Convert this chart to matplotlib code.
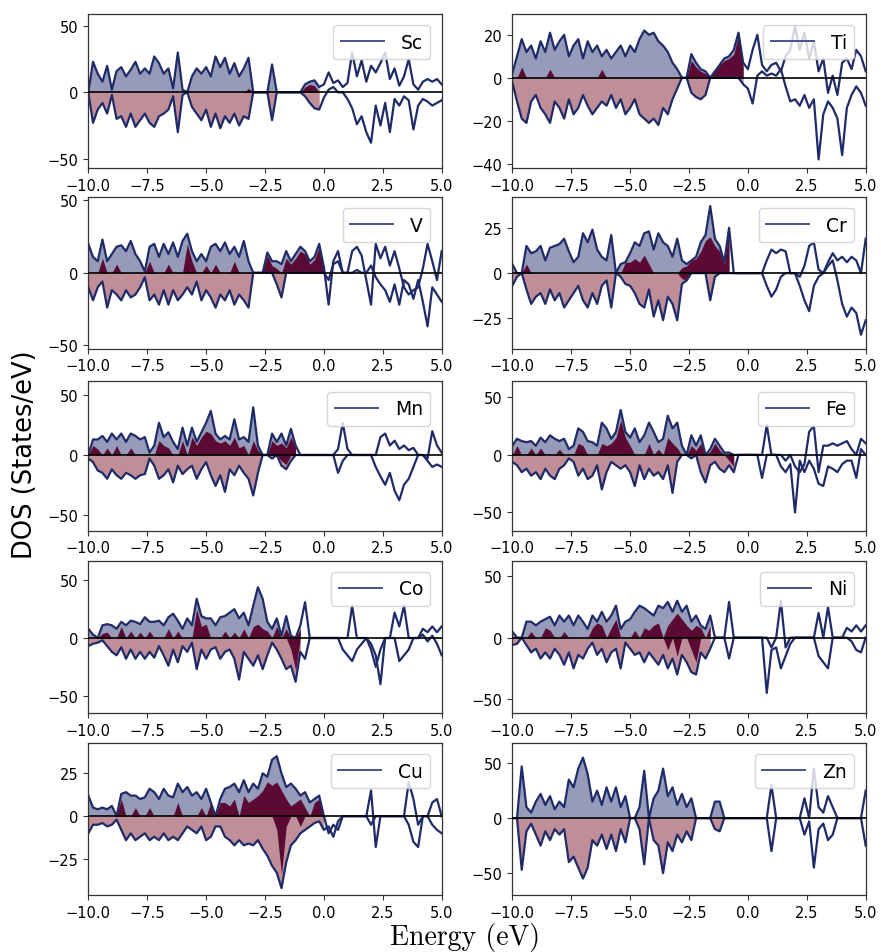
import numpy as np
import matplotlib
matplotlib.use("Agg")
import matplotlib.pyplot as plt
from matplotlib.lines import Line2D

# Energy grid (eV), 0.2 eV spacing
ENERGY = np.round(np.arange(-10.0, 5.0001, 0.2), 1)

ELEMENTS = ["Sc", "Ti", "V", "Cr", "Mn", "Fe", "Co", "Ni", "Cu", "Zn"]

SC_UP = [0, 23, 14, 8, 20, 2, 16, 19, 12, 17,
         23, 14, 18, 14, 27, 22, 14, 18, 3, 30,
         2, 0, 12, 18, 14, 19, 12, 27, 19, 26,
         14, 22, 12, 18, 26, 0, 0, 0, 0, 21,
         0, 0, 0, 0, 0, 0, 6, 8, 9, 4,
         6, 15, 7, 9, 4, 7, 30, 12, 24, 8,
         20, 15, 22, 30, 10, 18, 5, 12, 25, 6,
         2, 8, 10, 8, 10, 6]
SC_DN = [0, -23, -13, -8, -16, -2, -20, -18, -26, -16,
         -26, -21, -16, -23, -26, -18, -16, -13, -3, -30,
         -2, 0, -11, -16, -21, -13, -26, -16, -27, -18,
         -23, -16, -25, -18, -20, 0, 0, 0, 0, -21,
         0, 0, 0, 0, 0, 0, -3, -8, -12, -13,
         -4, 2, 4, 0, 0, -5, -12, -24, -18, -30,
         -38, -10, -25, -8, -30, -5, -10, -3, -6, -28,
         -10, -5, -7, -10, -8, -6]
SC_DU = [0, 0, 0, 0, 0, 0, 0, 0, 0, 0,
         0, 0, 0, 0, 0, 0, 0, 0, 0, 0,
         0, 0, 0, 0, 0, 0, 0, 0, 0, 0,
         0, 0, 0, 0, 3, 0, 0, 0, 0, 0,
         0, 0, 0, 0, 0, 0, 4, 6, 5, 0,
         0, 0, 0, 0, 0, 0, 0, 0, 0, 0,
         0, 0, 0, 0, 0, 0, 0, 0, 0, 0,
         0, 0, 0, 0, 0, 0]

TI_UP = [2, 10, 18, 12, 15, 9, 17, 12, 21, 13,
         17, 20, 10, 15, 18, 9, 17, 12, 15, 10,
         13, 9, 12, 15, 10, 15, 12, 18, 22, 20,
         21, 17, 15, 12, 7, 4, 0, 0, 11, 7,
         4, 3, 0, 3, 6, 9, 10, 13, 21, 7,
         4, 13, 20, 6, 3, 6, 7, 3, 10, 13,
         24, 13, 21, 9, 17, 3, 9, -7, 1, -8,
         7, 9, 4, 13, 10, 3]
TI_DN = [-2, -11, -19, -21, -11, -8, -14, -17, -21, -11,
         -14, -19, -10, -17, -14, -8, -13, -17, -14, -11,
         -13, -8, -14, -10, -17, -14, -10, -17, -19, -21,
         -19, -22, -14, -17, -10, -5, 0, 0, -7, -9,
         -10, -8, 0, 0, 0, 0, 0, 0, 0, -3,
         -5, -12, 1, 3, 1, 2, 1, 4, -4, -11,
         -10, -13, -8, -14, -10, -38, -17, -11, -14, -19,
         -36, -14, -8, -4, -7, -13]
TI_DU = [0, 0, 5, 0, 0, 0, 0, 0, 4, 0,
         0, 0, 0, 0, 0, 0, 0, 0, 0, 4,
         0, 0, 0, 0, 0, 0, 0, 0, 0, 0,
         0, 0, 0, 0, 0, 0, 0, 0, 8, 5,
         3, 2, 0, 3, 6, 8, 9, 11, 20, 5,
         0, 0, 0, 0, 0, 0, 0, 0, 0, 0,
         0, 0, 0, 0, 0, 0, 0, 0, 0, 0,
         0, 0, 0, 0, 0, 0]

V_UP = [20, 11, 8, 23, 8, 13, 18, 19, 15, 22,
        13, 8, 1, 18, 20, 11, 20, 13, 21, 11,
        22, 27, 15, 8, 13, 8, 18, 20, 15, 21,
        13, 18, 11, 22, 8, 0, 0, 0, 14, 8,
        8, 6, 15, 8, 13, 18, 15, 8, 11, 20,
        4, -22, 8, 15, 0, 0, 15, 18, 12, -5,
        -22, 20, 10, 18, 5, 15, 3, -10, -15, -12,
        -10, 3, 20, 8, -5, 15]
V_DN = [-10, -19, -10, -6, -24, -12, -15, -19, -12, -17,
        -15, -10, -3, -19, -15, -22, -12, -22, -12, -19,
        -15, -10, -15, -6, -19, -12, -17, -24, -15, -19,
        -12, -22, -15, -19, -24, 0, 0, 0, 0, 0,
        -8, -17, 0, 0, 0, 0, 0, 0, 0, 0,
        0, -5, 6, 8, 0, 0, 0, 2, 0, 0,
        5, -3, -8, -12, -20, -8, -22, -5, -8, -18,
        -5, -20, -37, -10, -15, -20]
V_DU = [0, 0, 0, 10, 0, 0, 6, 0, 0, 0,
        0, 0, 0, 8, 0, 0, 0, 6, 0, 0,
        0, 20, 8, 0, 0, 5, 0, 6, 0, 0,
        0, 8, 0, 0, 0, 0, 0, 0, 12, 5,
        3, 0, 10, 6, 10, 15, 13, 6, 9, 18,
        2, 0, 0, 0, 0, 0, 0, 0, 0, 0,
        0, 0, 0, 0, 0, 0, 0, 0, 0, 0,
        0, 0, 0, 0, 0, 0]

CR_UP = [5, 0, 0, 15, 11, 12, 15, 7, 14, 15,
         16, 19, 12, 6, 9, 22, 17, 24, 13, 9,
         7, 21, 0, 5, 6, 11, 17, 15, 22, 23,
         13, 22, 17, 15, 9, 19, 7, 5, 7, 9,
         17, 21, 37, 19, 15, 6, 25, 0, 0, 0,
         0, 0, 0, 0, 7, 13, 11, 13, 12, 0,
         0, -2, 4, 15, 17, 2, 0, 6, 11, 7,
         9, 6, 9, 7, 0, 19]
CR_DN = [-7, -2, 0, -9, -17, -13, -11, -17, -9, -15,
         -11, -19, -15, -11, -7, -15, -19, -11, -17, -7,
         -4, -19, 0, -2, -6, -7, -11, -17, -19, -9,
         -24, -15, -26, -13, -17, -26, -6, -4, 0, 0,
         0, 0, -15, -2, 0, 0, 0, 0, 0, 0,
         0, 0, 0, 0, -7, -13, -9, -2, 0, 0,
         0, -7, -15, -21, -7, -2, 0, 4, 7, -4,
         -17, -24, -19, -22, -34, -26]
CR_DU = [0, 0, 0, 5, 0, 0, 0, 0, 0, 0,
         0, 0, 0, 0, 0, 0, 0, 0, 0, 0,
         0, 0, 0, 0, 6, 6, 8, 6, 10, 5,
         0, 0, 0, 0, 0, 0, 3, 4, 7, 8,
         12, 18, 20, 15, 12, 5, 25, 0, 0, 0,
         0, 0, 0, 0, 0, 0, 0, 0, 0, 0,
         0, 0, 0, 0, 0, 0, 0, 0, 0, 0,
         0, 0, 0, 0, 0, 0]
CR_DD = [0, 0, 0, 0, 0, 0, 0, 0, 0, 0,
         0, 0, 0, 0, 0, 0, 0, 0, 0, 0,
         0, 0, 0, 0, 0, 0, 0, 0, 0, 0,
         0, 0, 0, 0, 0, 0, -3, -4, 0, 0,
         0, 0, 0, 0, 0, 0, 0, 0, 0, 0,
         0, 0, 0, 0, 0, 0, 0, 0, 0, 0,
         0, 0, 0, 0, 0, 0, 0, 0, 0, 0,
         0, 0, 0, 0, 0, 0]

MN_UP = [0, 13, 13, 16, 11, 18, 13, 18, 11, 18,
         16, 13, 15, 2, 8, 27, 15, 19, 11, 5,
         23, 8, 23, 11, 19, 27, 37, 18, 13, 16,
         13, 30, 13, 15, 11, 40, 8, 0, 0, 18,
         11, 18, 8, 22, 8, 0, 0, 0, 0, 0,
         0, 0, 0, 5, 27, 5, 0, 0, 0, 0,
         0, 0, 15, 18, 8, 12, 5, 8, 4, 6,
         0, 0, -3, 20, 8, 2]
MN_DN = [-3, -6, -13, -15, -20, -12, -17, -20, -15, -17,
         -20, -17, -16, -3, -9, -20, -17, -12, -23, -9,
         -16, -12, -9, -20, -12, -6, -17, -26, -17, -31,
         -12, -17, -9, -15, -20, -34, -15, 0, 0, -3,
         0, -9, -12, -5, 0, 0, 0, 0, 0, 0,
         0, 0, 0, -15, -5, 0, 0, 0, 0, 0,
         0, -10, -18, -25, -15, -30, -38, -25, -20, -10,
         0, 0, -5, -10, -8, -10]
MN_DU = [0, 8, 5, 0, 6, 0, 8, 0, 0, 6,
         0, 0, 0, 0, 0, 12, 8, 6, 0, 0,
         12, 0, 15, 8, 15, 20, 18, 12, 10, 12,
         8, 15, 6, 8, 0, 12, 4, 0, 0, 12,
         8, 10, 6, 15, 6, 0, 0, 0, 0, 0,
         0, 0, 0, 0, 0, 0, 0, 0, 0, 0,
         0, 0, 0, 0, 0, 0, 0, 0, 0, 0,
         0, 0, 0, 0, 0, 0]
MN_DD = [0, 0, 0, 0, 0, 0, 0, 0, 0, 0,
         0, 0, 0, 0, 0, 0, 0, 0, 0, 0,
         0, 0, 0, 0, 0, 0, 0, 0, 0, 0,
         0, 0, 0, 0, 0, 0, 0, 0, 0, 0,
         0, -5, -8, 0, 0, 0, 0, 0, 0, 0,
         0, 0, 0, 0, 0, 0, 0, 0, 0, 0,
         0, 0, 0, 0, 0, 0, 0, 0, 0, 0,
         0, 0, 0, 0, 0, 0]

FE_UP = [8, 14, 12, 11, 12, 8, 15, 11, 17, 14,
         12, 14, 5, 8, 23, 20, 12, 11, 8, 28,
         23, 14, 20, 39, 20, 15, 23, 11, 17, 28,
         20, 11, 14, 34, 23, 28, 8, 0, 17, 8,
         17, 0, 5, 14, 8, 2, 2, 0, 0, 0,
         0, 0, 0, 0, 26, 0, 0, 0, -5, 0,
         -10, -15, -8, 20, 25, -15, 8, 8, 10, 8,
         10, 12, 5, 0, 14, 10]
FE_DN = [-6, -9, -15, -12, -18, -15, -21, -12, -18, -21,
         -12, -9, -3, -6, -18, -12, -21, -18, -9, -30,
         -15, -6, -9, -12, -9, -15, -27, -9, -21, -12,
         -18, -15, -21, -9, -33, -6, 0, 0, -3, 0,
         -15, -24, -9, -6, -12, -15, -9, -15, 0, 0,
         0, 0, 0, -20, 0, 0, 0, -10, -15, -8,
         -50, -5, -15, -5, -12, -25, -27, -10, -12, -15,
         -8, -5, -5, -20, 5, 0]
FE_DU = [0, 8, 0, 0, 6, 0, 6, 0, 0, 0,
         5, 0, 0, 0, 10, 8, 0, 0, 0, 10,
         8, 10, 15, 30, 15, 8, 0, 0, 0, 10,
         0, 5, 0, 15, 10, 6, 0, 0, 8, 4,
         10, 0, 3, 10, 4, 0, 0, 0, 0, 0,
         0, 0, 0, 0, 0, 0, 0, 0, 0, 0,
         0, 0, 0, 0, 0, 0, 0, 0, 0, 0,
         0, 0, 0, 0, 0, 0]
FE_DD = [0, 0, 0, 0, 0, 0, 0, 0, 0, 0,
         0, 0, 0, 0, 0, 0, 0, 0, 0, 0,
         0, 0, 0, 0, 0, 0, 0, 0, 0, 0,
         0, 0, 0, 0, 0, 0, 0, 0, 0, 0,
         0, 0, 0, 0, 0, 0, -5, -10, 0, 0,
         0, 0, 0, 0, 0, 0, 0, 0, 0, 0,
         0, 0, 0, 0, 0, 0, 0, 0, 0, 0,
         0, 0, 0, 0, 0, 0]

CO_UP = [8, 3, 0, 11, 12, 11, 8, 14, 11, 15,
         14, 12, 18, 14, 14, 15, 11, 18, 21, 15,
         8, 17, 11, 34, 19, 17, 17, 11, 18, 19,
         22, 25, 17, 22, 11, 28, 44, 34, 14, 8,
         17, 2, 19, 2, 0, 11, 31, 0, 0, 0,
         0, 0, 0, 0, 0, 0, 28, 0, 0, 0,
         -5, -15, -40, 0, 0, 22, 10, 28, 0, 0,
         0, 8, 5, 10, 5, 10]
CO_DN = [-7, -5, -4, -2, -7, -12, -15, -8, -18, -10,
         -18, -12, -18, -12, -17, -7, -15, -24, -10, -21,
         -7, -12, -4, -27, -10, -18, -10, -8, -18, -12,
         -10, -18, -36, -12, -18, -24, -15, -27, -15, -4,
         -10, -18, -27, -24, -38, -12, -18, 0, 0, 0,
         0, 0, 0, 0, -10, -15, -20, -10, -5, 0,
         -10, -25, -10, 0, 0, 0, -20, -15, -10, 0,
         0, 3, -3, 2, -5, -15]
CO_DU = [0, 0, 0, 4, 5, 0, 0, 10, 0, 6,
         0, 5, 0, 6, 0, 0, 0, 8, 0, 6,
         0, 0, 0, 25, 10, 12, 0, 0, 0, 6,
         0, 5, 0, 8, 0, 10, 12, 8, 6, 0,
         10, 0, 8, 0, 0, 8, 20, 0, 0, 0,
         0, 0, 0, 0, 0, 0, 0, 0, 0, 0,
         0, 0, 0, 0, 0, 0, 0, 0, 0, 0,
         0, 0, 0, 0, 0, 0]
CO_DD = [0, 0, 0, 0, 0, 0, 0, 0, 0, 0,
         0, 0, 0, 0, 0, 0, 0, 0, 0, 0,
         0, 0, 0, 0, 0, 0, 0, 0, 0, 0,
         0, 0, 0, 0, 0, 0, 0, 0, 0, 0,
         0, 0, 0, -10, -28, 0, 0, 0, 0, 0,
         0, 0, 0, 0, 0, 0, 0, 0, 0, 0,
         0, 0, 0, 0, 0, 0, 0, 0, 0, 0,
         0, 0, 0, 0, 0, 0]

NI_UP = [5, 0, 0, 13, 13, 10, 13, 15, 17, 10,
         18, 13, 18, 10, 18, 13, 7, 18, 13, 21,
         13, 18, 26, 7, 13, 15, 21, 26, 24, 21,
         18, 26, 24, 29, 21, 30, 21, 26, 13, 18,
         10, 7, 18, 0, 0, 0, 29, 0, 0, 0,
         0, 0, 0, 0, 0, -8, 0, 30, -8, 0,
         0, 0, 0, 0, 0, 20, 0, 25, 0, 0,
         0, 8, 5, 10, 5, 10]
NI_DN = [-6, -5, 0, -6, -12, -9, -17, -12, -17, -9,
         -14, -22, -12, -25, -14, -17, -9, -4, -14, -9,
         -20, -12, -9, -25, -4, -9, -14, -12, -20, -12,
         -17, -22, -14, -25, -17, -30, -14, -20, -28, -30,
         -12, -17, -9, 0, 0, 0, -17, 0, 0, 0,
         0, 0, 0, 0, -45, -10, -8, -25, -15, -5,
         0, 0, 0, 0, 0, -15, -20, -25, 0, 0,
         0, 0, -3, -10, -12, 0]
NI_DU = [0, 0, 0, 0, 5, 0, 0, 8, 6, 0,
         0, 5, 0, 0, 0, 0, 0, 8, 12, 10,
         0, 8, 15, 0, 0, 0, 6, 0, 8, 6,
         10, 12, 0, 10, 15, 20, 15, 10, 6, 10,
         8, 0, 10, 0, 0, 0, 0, 0, 0, 0,
         0, 0, 0, 0, 0, 0, 0, 0, 0, 0,
         0, 0, 0, 0, 0, 0, 0, 0, 0, 0,
         0, 0, 0, 0, 0, 0]
NI_DD = [0, 0, 0, 0, 0, 0, 0, 0, 0, 0,
         0, 0, 0, 0, 0, 0, 0, 0, 0, 0,
         0, 0, 0, 0, 0, 0, 0, 0, 0, 0,
         0, 0, 0, -10, 0, -15, 0, 0, -10, -20,
         0, 0, 0, 0, 0, 0, 0, 0, 0, 0,
         0, 0, 0, 0, 0, 0, 0, 0, 0, 0,
         0, 0, 0, 0, 0, 0, 0, 0, 0, 0,
         0, 0, 0, 0, 0, 0]

CU_UP = [12, 5, 4, 5, 4, 6, 0, 13, 14, 12,
         12, 10, 11, 16, 14, 10, 16, 12, 11, 19,
         14, 17, 12, 14, 10, 16, 8, 0, 10, 16,
         17, 19, 14, 21, 14, 19, 16, 25, 23, 33,
         35, 25, 17, 19, 16, 12, 14, 8, 10, 12,
         0, -10, -5, -8, 0, 0, 0, 0, 0, 0,
         15, -18, 0, 0, 0, 0, 0, 0, 20, 10,
         -5, 0, 0, 8, 10, 0]
CU_DN = [-10, -5, -5, -4, -6, -5, -2, -8, -14, -10,
         -14, -12, -10, -14, -12, -14, -10, -14, -12, -14,
         -10, -6, -8, -10, -6, -14, -12, -6, -6, -12,
         -14, -17, -14, -17, -16, -17, -14, -19, -23, -29,
         -33, -42, -27, -17, -14, -10, -8, -6, -4, -3,
         -8, -6, -12, -3, 0, 0, 0, 0, 0, 0,
         -5, 0, 0, 0, 0, 0, 0, 0, -5, -15,
         -18, 0, 0, -5, -8, -10]
CU_DU = [0, 0, 0, 0, 0, 0, 0, 10, 0, 0,
         5, 0, 0, 5, 0, 0, 0, 0, 0, 8,
         0, 0, 0, 0, 5, 0, 8, 0, 8, 8,
         6, 10, 0, 12, 8, 10, 12, 15, 20, 18,
         20, 15, 10, 6, 8, 10, 5, 0, 8, 10,
         0, 0, 0, 0, 0, 0, 0, 0, 0, 0,
         0, 0, 0, 0, 0, 0, 0, 0, 0, 0,
         0, 0, 0, 0, 0, 0]
CU_DD = [0, 0, 0, 0, 0, 0, 0, 0, 0, 0,
         0, 0, 0, 0, 0, 0, 0, 0, 0, 0,
         0, 0, 0, 0, 0, 0, 0, 0, 0, 0,
         0, 0, 0, 0, 0, 0, 0, 0, 0, 0,
         -8, -34, -6, 0, 0, -6, 0, 0, 0, 0,
         0, 0, 0, 0, 0, 0, 0, 0, 0, 0,
         0, 0, 0, 0, 0, 0, 0, 0, 0, 0,
         0, 0, 0, 0, 0, 0]

ZN_UP = [0, 0, 47, 10, 5, 15, 22, 12, 20, 8,
         15, 10, 35, 28, 45, 55, 40, 15, 25, 12,
         28, 15, 28, 10, 20, 0, 0, 10, 43, 0,
         18, 25, 45, 20, 28, 12, 22, 10, 18, 0,
         0, 0, 0, 15, 15, 0, 0, 0, 0, 0,
         0, 0, 0, 0, 0, 30, 0, 0, 0, 0,
         0, 0, 18, 0, 45, 10, 5, 20, 10, 0,
         0, 0, 0, 0, 0, 25]
ZN_DN = [0, 0, -47, -12, -5, -15, -25, -12, -20, -10,
         -15, -10, -40, -35, -45, -55, -45, -20, -25, -15,
         -28, -15, -30, -10, -22, 0, 0, -10, -42, 0,
         -20, -25, -50, -22, -30, -15, -22, -12, -20, 0,
         0, 0, 0, -10, -12, 0, 0, 0, 0, 0,
         0, 0, 0, 0, 0, -30, 0, 0, 0, 0,
         0, 0, -15, -3, -45, -10, -5, -20, -15, 0,
         0, 0, 0, 0, 0, -25]

# occupied-state fill limit (eV) per element
FILL_LIMIT = [-0.1, -0.2, 0.0, -0.7, -1.1, -0.45, -0.85, -1.55, 0.0, -1.0]
Y_LIMITS = [(-57, 59), (-42, 29.7), (-52.3, 52.4), (-41.6, 42), (-63.6, 62.4),
            (-65.8, 64.4), (-65, 67), (-61.3, 62.6), (-46, 42.7), (-69.9, 68.3)]
Y_TICKS = [[-50, 0, 50], [-40, -20, 0, 20], [-50, 0, 50], [-25, 0, 25], [-50, 0, 50],
           [-50, 0, 50], [-50, 0, 50], [-50, 0, 50], [-25, 0, 25], [-50, 0, 50]]
X_TICKS = [-10.0, -7.5, -5.0, -2.5, 0.0, 2.5, 5.0]

SERIES = [
    (SC_UP, SC_DN, SC_DU, None),
    (TI_UP, TI_DN, TI_DU, None),
    (V_UP, V_DN, V_DU, None),
    (CR_UP, CR_DN, CR_DU, CR_DD),
    (MN_UP, MN_DN, MN_DU, MN_DD),
    (FE_UP, FE_DN, FE_DU, FE_DD),
    (CO_UP, CO_DN, CO_DU, CO_DD),
    (NI_UP, NI_DN, NI_DU, NI_DD),
    (CU_UP, CU_DN, CU_DU, CU_DD),
    (ZN_UP, ZN_DN, None, None),
]

NAVY = "#1f2b68"
SLATE = "#959bb9"
PINK = "#bf8e99"
MAROON = "#5b0b33"
LEG_LINE = "#46528a"
SPINE = "#333333"

W, H = 881, 953
fig = plt.figure(figsize=(W / 100, H / 100), dpi=100)

col_left = [88.3, 512.3]
col_width = 353.4
rows = [(15, 169), (198, 349.5), (381.7, 531.7), (561.7, 714), (744, 896)]

for k, name in enumerate(ELEMENTS):
    r, c = divmod(k, 2)
    top, bot = rows[r]
    ax = fig.add_axes([col_left[c] / W, 1 - bot / H, col_width / W, (bot - top) / H])
    up, dn, du, dd = [None if s is None else np.asarray(s, float) for s in SERIES[k]]
    for s in (up, dn, du, dd):
        if s is not None and len(s) != len(ENERGY):
            raise ValueError(f"{name}: length {len(s)}")
    mask = ENERGY <= FILL_LIMIT[k] + 1e-9
    ax.fill_between(ENERGY, 0, up, where=mask, color=SLATE, lw=0, zorder=1)
    ax.fill_between(ENERGY, 0, dn, where=mask, color=PINK, lw=0, zorder=1)
    if du is not None:
        ax.fill_between(ENERGY, 0, du, where=mask, color=MAROON, lw=0, zorder=1.5)
    if dd is not None:
        ax.fill_between(ENERGY, 0, dd, where=mask, color=MAROON, lw=0, zorder=1.5)
    ax.plot(ENERGY, up, color=NAVY, lw=1.6, zorder=2)
    ax.plot(ENERGY, dn, color=NAVY, lw=1.6, zorder=2)
    ax.axhline(0, color="black", lw=1.2, zorder=3)
    ax.set_xlim(-10, 5)
    ax.set_ylim(*Y_LIMITS[k])
    ax.set_xticks(X_TICKS)
    ax.set_yticks(Y_TICKS[k])
    ax.tick_params(labelsize=10.5, color=SPINE, length=3.5, width=0.8)
    for sp in ax.spines.values():
        sp.set_color(SPINE)
        sp.set_linewidth(0.9)
    handle = Line2D([], [], color=LEG_LINE, lw=1.4)
    leg = ax.legend([handle], [name], loc="upper right", fontsize=13.5,
                    handlelength=2.3, handletextpad=0.9, borderpad=0.4,
                    borderaxespad=0.6, framealpha=0.8)
    leg.set_zorder(5)

fig.text(25 / W, 1 - 455 / H, "DOS (States/eV)", rotation=90, fontsize=18.5,
         ha="center", va="center")
fig.text(465 / W, 1 - 938 / H, "Energy (eV)", family="cmr10", fontsize=20,
         ha="center", va="center")

fig.savefig("out.png", dpi=100)
